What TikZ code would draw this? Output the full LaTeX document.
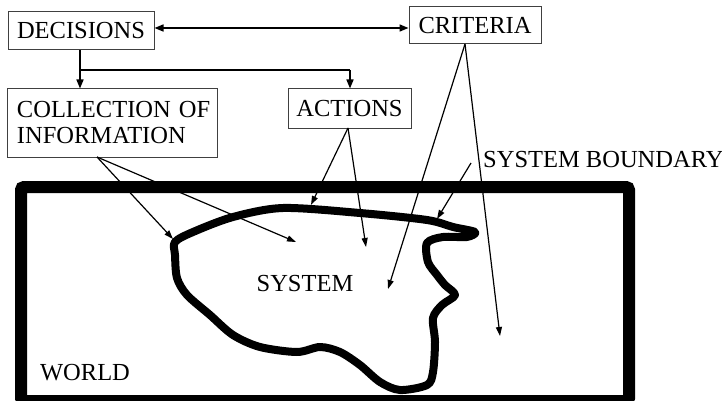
\documentclass[tikz,border=0pt]{standalone}
\usepackage{fontspec}
\setmainfont{Liberation Serif}
\usetikzlibrary{arrows.meta}
\begin{document}
\begin{tikzpicture}[x=1pt,y=-1pt,
  box/.style={draw=black!75,line width=1pt,inner sep=0pt,font=\fontsize{24.5}{27}\selectfont},
  lbl/.style={inner sep=0pt,font=\fontsize{24.5}{27}\selectfont},
  arr/.style={line width=1.6pt,-{Triangle[length=9pt,width=7pt]}},
  thin/.style={line width=1.2pt,-{Triangle[length=9pt,width=6pt]}}]
\useasboundingbox (0,0) rectangle (722,401);
% boxes
\node[box,minimum width=146pt,minimum height=38pt] (dec) at (81,31) {DECISIONS};
\node[box,minimum width=132pt,minimum height=37pt] (crit) at (475,25.5) {CRITERIA};
\node[box,minimum width=123pt,minimum height=39pt] (act) at (349.5,108.5) {ACTIONS};
\node[box,minimum width=210pt,minimum height=68pt,align=left,text width=200pt] (coll) at (112,123) {\hspace*{5pt}COLLECTION OF\\[-1pt]\hspace*{5pt}INFORMATION};
% labels
\node[lbl,anchor=west] (sb) at (483,160) {SYSTEM BOUNDARY};
\node[lbl] (sys) at (305,284) {SYSTEM};
\node[lbl] (world) at (85,373) {WORLD};
% world
\draw[line width=12pt,rounded corners=3pt] (21,187) rectangle (629,401);
% system blob
\draw[line width=8pt,line join=round,line cap=round] plot[smooth cycle,tension=0.5] coordinates {
 (175,242) (193,232) (233,217) (283,208) (360,213) (427,220) (453,227) (475,232)
 (467,237) (443,237) (427,243) (428,262) (437,275) (445,285) (455,295) (442,305)
 (433,318) (435,342) (433,372) (427,385) (400,390) (380,382) (360,365) (340,352)
 (320,347) (297,352) (260,347) (233,335) (210,315) (187,295) (177,278) (175,255)};
% decisions connections
\coordinate (j1) at (80,70);
\coordinate (j2) at (350,70);
\draw[arr,{Triangle[length=9pt,width=7pt]}-{Triangle[length=9pt,width=7pt]}] (dec.east |- 0,28) -- (crit.west |- 0,28);
\draw[line width=1.6pt] (dec.south -| j1) -- (j1) -- (j2);
\draw[arr] (j1) -- (coll.north -| j1);
\draw[arr] (j2) -- (act.north -| j2);
% information arrows
\coordinate (cb) at (97,157);
\coordinate (t1) at (173,239);
\coordinate (t2) at (296,242);
\draw[thin] (cb) -- (t1);
\draw[thin] (cb) -- (t2);
% actions arrows
\coordinate (ab) at (348,128);
\coordinate (t3) at (311,205);
\coordinate (t4) at (366,247);
\draw[thin] (ab) -- (t3);
\draw[thin] (ab) -- (t4);
% criteria arrows
\coordinate (cr) at (465,44);
\coordinate (t5) at (388,289);
\coordinate (t6) at (500,336);
\draw[thin] (cr) -- (t5);
\draw[thin] (cr) -- (t6);
% system boundary arrow
\coordinate (sbs) at (471,163);
\coordinate (t7) at (437,219);
\draw[thin] (sbs) -- (t7);
\end{tikzpicture}
\end{document}
